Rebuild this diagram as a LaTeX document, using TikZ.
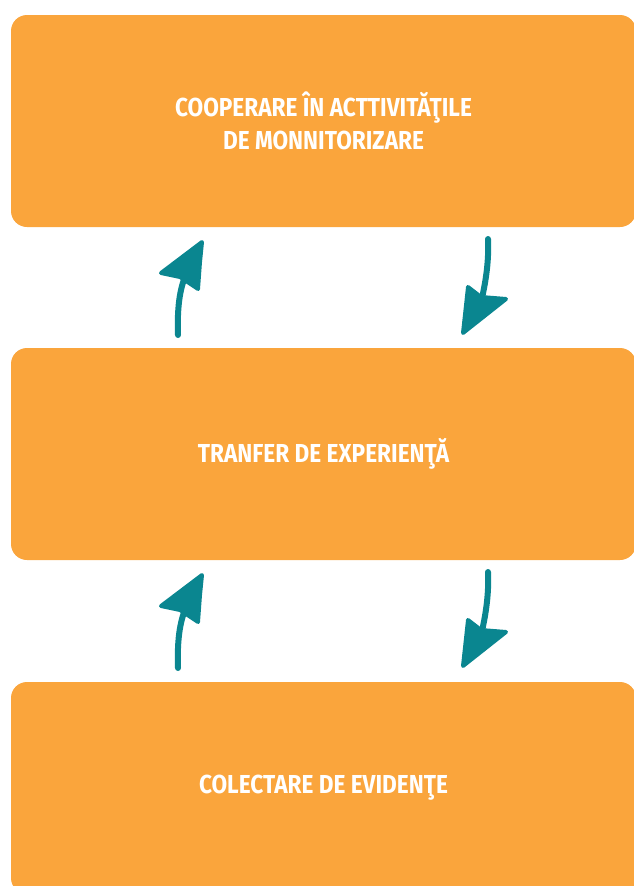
\documentclass[tikz,border=0pt]{standalone}
\usepackage{fontspec}
\newfontfamily\boxfont{Fira Sans}[FakeStretch=0.87]
\definecolor{boxorange}{RGB}{250,165,60}
\definecolor{arrowteal}{RGB}{10,134,144}
\begin{document}
\begin{tikzpicture}[x=1pt,y=-1pt,
  stage/.style={fill=boxorange, draw=none, rounded corners=16pt, minimum width=625pt, minimum height=212pt,
    inner sep=0pt, align=center, text=white, font=\boxfont\bfseries\fontsize{26}{33}\selectfont},
  shaft/.style={draw=arrowteal, line width=6pt, line cap=round},
  head/.style={fill=arrowteal, draw=arrowteal, line width=4pt, line join=round}]
\useasboundingbox (0,0) rectangle (634,886);
\node[stage] (b1) at (323.5,121) {COOPERARE ÎN ACTTIVITĂŢILE\\DE MONNITORIZARE};
\node[stage] (b2) at (323.5,454) {TRANFER DE EXPERIENŢĂ};
\node[stage] (b3) at (323.5,788) {COLECTARE DE EVIDENŢE};
% hand-drawn arrows between the stages
\foreach \dy/\n in {0/a, 333/b} {
  \begin{scope}[shift={(0,\dy)}]
    \coordinate (\n up0) at (178,335);
    \coordinate (\n up1) at (189,268);
    \coordinate (\n dn0) at (488,239);
    \coordinate (\n dn1) at (482,298);
    \draw[shaft] (\n up0) .. controls (177,305) and (180,285) .. (\n up1);
    \draw[head] (202,242) -- (161,273) -- (180,277) -- (198,289) -- (200,262) -- cycle;
    \draw[shaft] (\n dn0) .. controls (489,260) and (486,280) .. (\n dn1);
    \draw[head] (463,333) -- (468,287) -- (481,297) -- (506,299) -- cycle;
  \end{scope}
}
\end{tikzpicture}
\end{document}
